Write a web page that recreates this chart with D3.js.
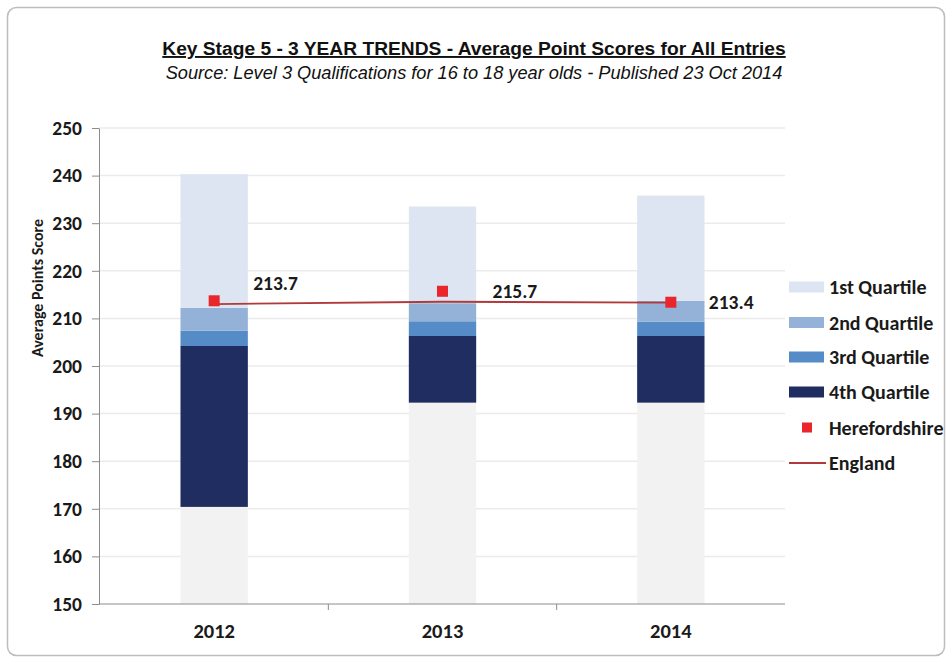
<!DOCTYPE html>
<html>
<head>
<meta charset="utf-8">
<script src="https://cdn.jsdelivr.net/npm/d3@7"></script>
<style>
  body { margin: 0; background: #fff; }
  text { font-family: Calibri, Carlito, "Open Sans", Arial, sans-serif; }
</style>
</head>
<body>
<div id="chart"></div>
<script>
// chart data
var years = ["2012", "2013", "2014"]
var baseTop = [170.4, 192.3, 192.3]      // light grey filler from 150
var q4Top = [204.2, 206.3, 206.3]
var q3Top = [207.4, 209.4, 209.3]
var q2Top = [212.2, 213.2, 213.7]
var q1Top = [240.3, 233.5, 235.8]
var hereford = [213.7, 215.7, 213.4]
var england = [213.0, 213.5, 213.3]
var yTicks = [150, 160, 170, 180, 190, 200, 210, 220, 230, 240, 250]

var width = 951, height = 660
var margin = { top: 128, right: 166, bottom: 56, left: 99 }

var svg = d3.select("#chart").append("svg")
  .attr("width", width)
  .attr("height", height)

// outer frame
svg.append("rect")
  .attr("x", 7.5).attr("y", 7.5)
  .attr("width", 937).attr("height", 648)
  .attr("rx", 9)
  .attr("fill", "#fff")
  .attr("stroke", "#bdbdbd")
  .attr("stroke-width", 1.5)

var x = d3.scaleBand()
  .domain(years)
  .range([margin.left + 1, width - margin.right])
  .paddingInner(0.705)
  .paddingOuter(0.3525)

var y = d3.scaleLinear()
  .domain([150, 250])
  .range([height - margin.bottom, margin.top])

// gridlines
svg.append("g")
  .selectAll("line")
  .data(yTicks.slice(1))
  .enter().append("line")
  .attr("x1", margin.left)
  .attr("x2", width - margin.right)
  .attr("y1", function(d) { return y(d) })
  .attr("y2", function(d) { return y(d) })
  .attr("stroke", "#ebebeb")
  .attr("stroke-width", 1.5)

// stacked segments
var layers = [
  { name: "base", lo: null, hi: baseTop, color: "#f2f2f2" },
  { name: "4th Quartile", lo: baseTop, hi: q4Top, color: "#1f2d60" },
  { name: "3rd Quartile", lo: q4Top, hi: q3Top, color: "#558bc6" },
  { name: "2nd Quartile", lo: q3Top, hi: q2Top, color: "#94b2d8" },
  { name: "1st Quartile", lo: q2Top, hi: q1Top, color: "#dce5f1" }
]

layers.forEach(function(layer) {
  svg.append("g")
    .selectAll("rect")
    .data(years)
    .enter().append("rect")
    .attr("x", function(d) { return x(d) })
    .attr("width", x.bandwidth())
    .attr("y", function(d, i) { return y(layer.hi[i]) })
    .attr("height", function(d, i) {
      var lo = layer.lo ? layer.lo[i] : 150
      return y(lo) - y(layer.hi[i])
    })
    .attr("fill", layer.color)
})

// axes
var yAxis = svg.append("g")
  .attr("transform", "translate(" + margin.left + ",0)")
  .call(d3.axisLeft(y).tickValues(yTicks).tickSize(7).tickSizeOuter(0))
yAxis.select(".domain").attr("stroke", "#8c8c8c")
yAxis.selectAll(".tick line").attr("stroke", "#8c8c8c")
yAxis.selectAll(".tick text")
  .attr("x", -17)
  .attr("font-size", 19.5)
  .attr("font-weight", "bold")
  .attr("fill", "#1a1a1a")
  .style("font-family", "Calibri, Carlito, 'Open Sans', Arial, sans-serif")

var xAxis = svg.append("g")
  .attr("transform", "translate(0," + y(150) + ")")
xAxis.append("line")
  .attr("x1", margin.left).attr("x2", width - margin.right)
  .attr("stroke", "#8c8c8c")
// ticks between categories
xAxis.selectAll("line.sep")
  .data(years.slice(1))
  .enter().append("line")
  .attr("class", "sep")
  .attr("x1", function(d) { return x(d) - x.step() * x.paddingInner() / 2 })
  .attr("x2", function(d) { return x(d) - x.step() * x.paddingInner() / 2 })
  .attr("y1", 0).attr("y2", 6)
  .attr("stroke", "#8c8c8c")
xAxis.selectAll("text")
  .data(years)
  .enter().append("text")
  .attr("x", function(d) { return x(d) + x.bandwidth() / 2 })
  .attr("y", 34)
  .attr("text-anchor", "middle")
  .attr("font-size", 20.5)
  .attr("font-weight", "bold")
  .attr("fill", "#1a1a1a")
  .text(function(d) { return d })

// y title
svg.append("text")
  .attr("transform", "translate(43,288) rotate(-90)")
  .attr("text-anchor", "middle")
  .attr("font-size", 16)
  .attr("font-weight", "bold")
  .attr("fill", "#1a1a1a")
  .text("Average Points Score")

// England line
var line = d3.line()
  .x(function(d, i) { return x(years[i]) + x.bandwidth() / 2 })
  .y(function(d) { return y(d) })

svg.append("path")
  .datum(england)
  .attr("d", line)
  .attr("fill", "none")
  .attr("stroke", "#b03a3a")
  .attr("stroke-width", 1.8)

// Herefordshire points
svg.append("g")
  .selectAll("rect")
  .data(hereford)
  .enter().append("rect")
  .attr("x", function(d, i) { return x(years[i]) + x.bandwidth() / 2 - 5.5 })
  .attr("y", function(d) { return y(d) - 5.5 })
  .attr("width", 11).attr("height", 11)
  .attr("fill", "#e8262b")

var labelDx = [39, 50, 38]
var labelDy = [-11, 7, 7]
svg.append("g")
  .selectAll("text")
  .data(hereford)
  .enter().append("text")
  .attr("x", function(d, i) { return x(years[i]) + x.bandwidth() / 2 + labelDx[i] })
  .attr("y", function(d, i) { return y(d) + labelDy[i] })
  .attr("font-size", 19.5)
  .attr("font-weight", "bold")
  .attr("fill", "#1a1a1a")
  .text(function(d) { return d.toFixed(1) })

// titles
svg.append("text")
  .attr("x", 474).attr("y", 55)
  .attr("text-anchor", "middle")
  .attr("font-size", 19.2)
  .attr("font-weight", "bold")
  .attr("text-decoration", "underline")
  .attr("fill", "#111")
  .style("font-family", "'Liberation Sans', Arial, sans-serif")
  .text("Key Stage 5 - 3 YEAR TRENDS - Average Point Scores for All Entries")
svg.append("text")
  .attr("x", 474).attr("y", 79)
  .attr("text-anchor", "middle")
  .attr("font-size", 18.2)
  .attr("font-style", "italic")
  .attr("fill", "#111")
  .style("font-family", "'Liberation Sans', Arial, sans-serif")
  .text("Source: Level 3 Qualifications for 16 to  18 year olds - Published 23 Oct 2014")

// legend
var legendItems = [
  { label: "1st Quartile", type: "bar", color: "#dce5f1" },
  { label: "2nd Quartile", type: "bar", color: "#94b2d8" },
  { label: "3rd Quartile", type: "bar", color: "#558bc6" },
  { label: "4th Quartile", type: "bar", color: "#1f2d60" },
  { label: "Herefordshire", type: "point", color: "#e8262b" },
  { label: "England", type: "line", color: "#b03a3a" }
]
var legendY = [287, 322.5, 357, 392, 427.5, 463]

var legend = svg.append("g")
  .selectAll("g")
  .data(legendItems)
  .enter().append("g")
  .attr("transform", function(d, i) { return "translate(789," + legendY[i] + ")" })

legend.each(function(d) {
  var g = d3.select(this)
  if (d.type === "bar") {
    g.append("rect").attr("x", 0).attr("y", -5.5).attr("width", 35).attr("height", 11).attr("fill", d.color)
  } else if (d.type === "point") {
    g.append("rect").attr("x", 13).attr("y", -5).attr("width", 10).attr("height", 10).attr("fill", d.color)
  } else {
    g.append("line").attr("x1", 0).attr("x2", 37).attr("y1", 0).attr("y2", 0)
      .attr("stroke", d.color).attr("stroke-width", 1.8)
  }
  g.append("text")
    .attr("x", 40)
    .attr("y", 7)
    .attr("font-size", 20)
    .attr("font-weight", "bold")
    .attr("fill", "#1a1a1a")
    .text(d.label)
})
</script>
</body>
</html>
